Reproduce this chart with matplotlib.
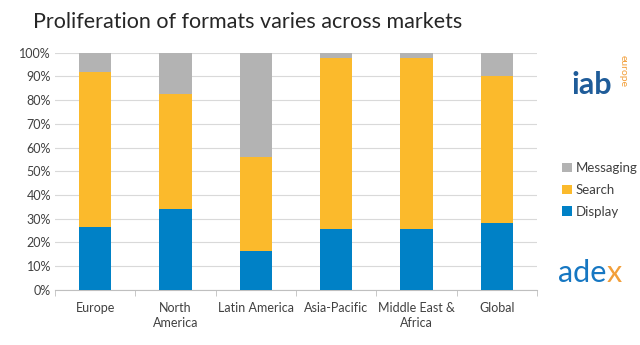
import numpy as np
import matplotlib.pyplot as plt
from matplotlib.ticker import PercentFormatter

plt.rcParams['font.family'] = ['Lato', 'DejaVu Sans']

# data (share of each format, %)
markets = ['Europe', 'North\nAmerica', 'Latin America', 'Asia-Pacific', 'Middle East &\nAfrica', 'Global']
display = [26.5, 34, 16.5, 25.5, 25.5, 28]
search = [65.5, 48.5, 39.5, 72.5, 72.5, 62]
messaging = [8, 17.5, 44, 2, 2, 10]

c_display = '#0081C6'
c_search = '#FBBA2C'
c_messaging = '#B3B3B3'
txt = '#404040'

fig = plt.figure(figsize=(6.4, 3.45), dpi=100)
ax = fig.add_axes([0.086, 0.16, 0.753, 0.687])

x = np.arange(len(markets))
w = 0.4
ax.bar(x, display, w, color=c_display, label='Display', zorder=3)
ax.bar(x, search, w, bottom=display, color=c_search, label='Search', zorder=3)
bottom2 = np.array(display) + np.array(search)
ax.bar(x, messaging, w, bottom=bottom2, color=c_messaging, label='Messaging', zorder=3)

ax.set_xlim(-0.5, len(markets) - 0.5)
ax.set_ylim(0, 100)
ax.set_yticks(np.arange(0, 101, 10))
ax.yaxis.set_major_formatter(PercentFormatter(decimals=0))
ax.grid(axis='y', color='#D9D9D9', linewidth=0.8, zorder=0)
for s in ['top', 'right', 'left']:
    ax.spines[s].set_visible(False)
ax.spines['bottom'].set_color('#BFBFBF')
ax.set_xticks(x)
ax.set_xticklabels(markets, color=txt, fontsize=9, linespacing=1.25)
ax.set_xticks(np.arange(-0.5, len(markets)), minor=True)
ax.tick_params(axis='x', which='major', length=0, pad=9)
ax.tick_params(axis='x', which='minor', length=4, color='#BFBFBF')
ax.tick_params(axis='y', length=0, labelcolor=txt, labelsize=9, pad=3)

fig.text(0.052, 0.935, 'Proliferation of formats varies across markets',
         fontsize=15.5, color='#262626', va='center', ha='left')

h, l = ax.get_legend_handles_labels()
fig.legend(h[::-1], l[::-1], loc='center left', bbox_to_anchor=(0.86, 0.45),
           frameon=False, fontsize=9.5, handlelength=0.7, handleheight=0.7,
           handletextpad=0.3, labelspacing=0.75, labelcolor=txt)

# logos as text
fig.text(0.925, 0.755, 'iab', fontsize=22, fontweight='bold', color='#1F5C99',
         ha='center', va='center')
fig.text(0.973, 0.795, 'europe', fontsize=7.5, color='#F29F3A', rotation=-90,
         ha='center', va='center')
t = fig.text(0.872, 0.21, 'ade', fontsize=22, color='#1677C2', ha='left', va='center')
ax.annotate('x', xy=(1, 0.5), xycoords=t, fontsize=22, color='#F29F3A',
            ha='left', va='center', annotation_clip=False)

fig.savefig('out.png', dpi=100)
